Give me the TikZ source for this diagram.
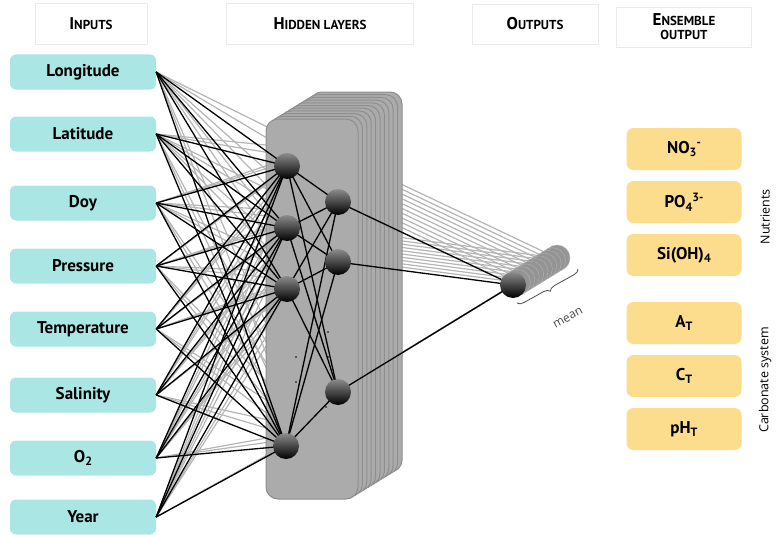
\documentclass[tikz,border=0pt]{standalone}
\usepackage{fontspec}
\setmainfont{PT Sans}
\newfontfamily\sidefont{Open Sans}
\usetikzlibrary{positioning,calc,decorations.pathreplacing}
\definecolor{inputcyan}{HTML}{A9E6E4}
\definecolor{outputsand}{HTML}{FCDD8E}
\definecolor{layergray}{HTML}{ABABAB}
\definecolor{layeredge}{HTML}{8E8E8E}
\definecolor{ghostline}{HTML}{B5B5B5}
\newcommand{\smallcap}[2]{{\fontsize{17}{17}\selectfont #1}{\fontsize{13}{13}\selectfont #2}}
\newcommand{\lowidx}[1]{\raisebox{-0.45ex}{\fontsize{12}{12}\selectfont #1}}
\newcommand{\highidx}[1]{\raisebox{0.75ex}{\fontsize{12}{12}\selectfont #1}}
\tikzset{
  header/.style={draw=black!8, fill=white, minimum height=41pt, inner sep=2pt, font=\bfseries, align=center},
  inbox/.style={fill=inputcyan, rounded corners=6pt, minimum width=146pt, minimum height=35pt, font=\fontsize{17}{17}\selectfont\bfseries},
  outbox/.style={fill=outputsand, rounded corners=7pt, minimum width=115pt, minimum height=42pt, font=\fontsize{17}{17}\selectfont\bfseries},
  neuron/.style={circle, minimum size=26pt, inner sep=0pt, top color=black!45, bottom color=black},
  ghostneuron/.style={circle, minimum size=26pt, inner sep=0pt, fill=black!42, draw=black!30},
  layerbox/.style={fill=layergray, draw=layeredge, line width=1pt, rounded corners=12pt},
  link/.style={line width=1.3pt, black},
  ghostlink/.style={line width=1.2pt, ghostline},
  sidelabel/.style={rotate=90, font=\sidefont\fontsize{12.5}{12.5}\selectfont},
}
\begin{document}
\begin{tikzpicture}[x=1pt,y=-1pt]
\useasboundingbox (0,0) rectangle (779,535);
% column titles
\node[header, minimum width=112pt] (hin) at (91,24) {\smallcap{I}{NPUTS}};
\node[header, minimum width=187pt] (hhid) at (320,24) {\smallcap{H}{IDDEN LAYERS}};
\node[header, minimum width=126pt, minimum height=40pt] (hout) at (535,24) {\smallcap{O}{UTPUTS}};
\node[header, minimum width=135pt, minimum height=40pt] (hens) at (684,27) {\smallcap{E}{NSEMBLE}\\[2pt]{\fontsize{13}{13}\selectfont OUTPUT}};
% inputs
\foreach \name/\txt/\yy in {lon/Longitude/72, lat/Latitude/134, doy/Doy/203, pres/Pressure/266, temp/Temperature/329, sal/Salinity/395, oxy/O\lowidx{2}/458, year/Year/517}
  \node[inbox] (\name) at (83,\yy) {\txt};
% units
\coordinate (h1) at (287,166);
\coordinate (h2) at (287,228);
\coordinate (h3) at (287,289);
\coordinate (h4) at (286,446);
\coordinate (g1) at (338,202);
\coordinate (g2) at (338,262);
\coordinate (g3) at (338,392);
\coordinate (out) at (513,285);
% ensemble members behind
\foreach \i in {lon,lat,doy,pres,temp,sal,oxy,year}
  \foreach \h in {h1,h2,h3,h4}
    \foreach \k in {3,6}
      \draw[ghostlink] (\i.east) -- ($(\h)+\k*(4.4,-2.7)$);
\foreach \k in {1,...,10}
  \foreach \g in {g1,g2,g3}
    \draw[ghostlink] ($(\g)+\k*(4.4,-2.7)$) -- ($(out)+\k*(4.4,-2.7)$);
\foreach \k in {10,...,1}
  \draw[layerbox] ($(266,119)+\k*(4.4,-2.7)$) rectangle ++(92,380);
\draw[layerbox] (266,119) rectangle (358,499);
% front network
\foreach \i in {lon,lat,doy,pres,temp,sal,oxy,year}
  \foreach \h in {h1,h2,h3,h4}
    \draw[link] (\i.east) -- (\h);
\foreach \h in {h1,h2,h3,h4}
  \foreach \g in {g1,g2,g3}
    \draw[link] (\h) -- (\g);
\foreach \g in {g1,g2,g3}
  \draw[link] (\g) -- (out);
\foreach \p in {(296,357),(296,382),(297,407),(328,332),(328,357),(326,407)}
  \fill \p circle (0.8pt);
\foreach \h in {h1,h2,h3,h4,g1,g2,g3}
  \node[neuron] at (\h) {};
\foreach \k in {10,...,1}
  \node[ghostneuron] at ($(out)+\k*(4.4,-2.7)$) {};
\node[neuron] (outunit) at (out) {};
% mean
\draw[black!70, line width=0.8pt, decorate, decoration={brace, amplitude=6pt, mirror}] (517,303) -- (578,269);
\node[rotate=29, text=black!70, font=\sidefont\fontsize{12}{12}\selectfont] (meanlabel) at (568,318) {mean};
% ensemble outputs
\node[outbox] (no3) at (684,149) {NO\lowidx{3}\highidx{-}};
\node[outbox] (po4) at (684,202) {PO\lowidx{4}\highidx{3-}};
\node[outbox] (sioh) at (684,255) {Si(OH)\lowidx{4}};
\node[outbox] (alk) at (684,323) {A\lowidx{T}};
\node[outbox] (dic) at (684,376) {C\lowidx{T}};
\node[outbox] (ph) at (684,429) {pH\lowidx{T}};
\node[sidelabel] (nutri) at (765,217) {Nutrients};
\node[sidelabel] (carb) at (765,380) {Carbonate system};
\end{tikzpicture}
\end{document}
